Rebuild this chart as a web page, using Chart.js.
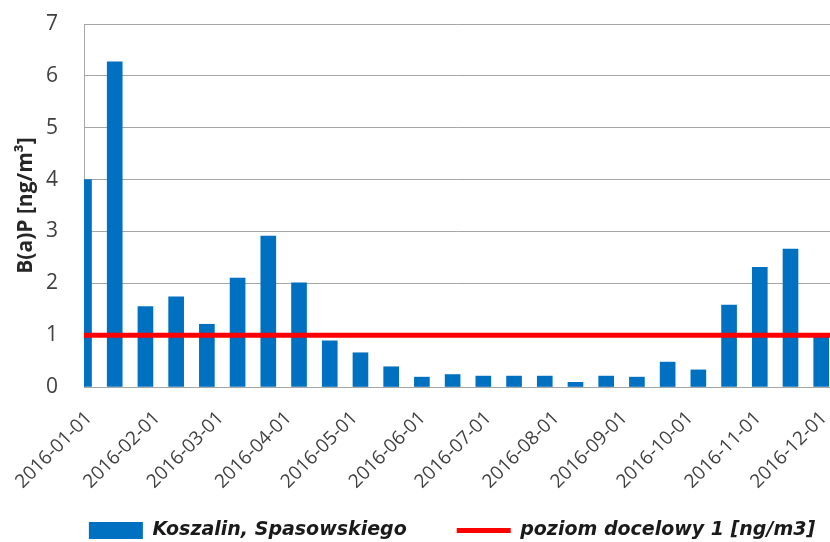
<!DOCTYPE html>
<html>
<head>
<meta charset="utf-8">
<script src="https://cdn.jsdelivr.net/npm/chart.js@4.4.1/dist/chart.umd.min.js"></script>
<style>
  html, body { margin: 0; padding: 0; background: #fff; }
  #wrap { width: 830px; height: 542px; }
</style>
</head>
<body>
<div id="wrap"><canvas id="bapChart"></canvas></div>
<script>
// sampling dates (every 14 days) and measured B(a)P values
var sampleDates = ['2016-01-01', '2016-01-15', '2016-01-29', '2016-02-12', '2016-02-26',
                   '2016-03-11', '2016-03-25', '2016-04-08', '2016-04-22', '2016-05-06',
                   '2016-05-20', '2016-06-03', '2016-06-17', '2016-07-01', '2016-07-15',
                   '2016-07-29', '2016-08-12', '2016-08-26', '2016-09-09', '2016-09-23',
                   '2016-10-07', '2016-10-21', '2016-11-04', '2016-11-18', '2016-12-02'];
var bapValues = [4.0, 6.27, 1.55, 1.74, 1.21, 2.10, 2.91, 2.01, 0.89, 0.66,
                 0.39, 0.19, 0.24, 0.21, 0.21, 0.21, 0.09, 0.21, 0.19, 0.48,
                 0.33, 1.58, 2.31, 2.66, 0.98];

// target value line
var limitDates = ['2016-01-01', '2016-12-06'];
var limitValues = [1, 1];

// x axis labels (month starts)
var tickDates = ['2016-01-01', '2016-02-01', '2016-03-01', '2016-04-01', '2016-05-01', '2016-06-01',
                 '2016-07-01', '2016-08-01', '2016-09-01', '2016-10-01', '2016-11-01', '2016-12-01'];
var yTicks = [0, 1, 2, 3, 4, 5, 6, 7];

var seriesName = 'Koszalin, Spasowskiego';
var limitName = 'poziom docelowy 1 [ng/m3]';

var DAY = 86400000;
var start = Date.UTC(2016, 0, 1);
function dayOf(s) {
    var p = s.split('-');
    return Math.round((Date.UTC(+p[0], +p[1] - 1, +p[2]) - start) / DAY);
}
function labelOf(d) {
    return new Date(start + d * DAY).toISOString().slice(0, 10);
}

var barPoints = sampleDates.map(function (d, i) { return { x: dayOf(d), y: bapValues[i] }; });
var limitPoints = limitDates.map(function (d, i) { return { x: dayOf(d), y: limitValues[i] }; });

var tickColor = '#404040';

// centre the legend under the plot area, and let the slanted
// date labels run past the axis box so they are not clipped
var layoutFix = {
    id: 'layoutFix',
    afterLayout: function (chart) {
        var lg = chart.legend;
        var dx = (chart.chartArea.left + chart.chartArea.right) / 2 - chart.width / 2 - 5;
        lg.left += dx;
        lg.right += dx;
        chart.scales.x.bottom = chart.height;
    }
};

new Chart(document.getElementById('bapChart'), {
    type: 'bar',
    data: {
        datasets: [{
            label: seriesName,
            data: barPoints,
            backgroundColor: '#0070C0',
            borderWidth: 0,
            barThickness: 15,
            pointStyle: 'rect',
            clip: 0,
            order: 2
        }, {
            type: 'line',
            label: limitName,
            data: limitPoints,
            borderColor: '#FF0000',
            backgroundColor: '#FF0000',
            borderWidth: 5,
            pointRadius: 0,
            pointStyle: 'line',
            clip: 0,
            order: 1
        }]
    },
    plugins: [layoutFix],
    options: {
        responsive: true,
        maintainAspectRatio: false,
        animation: false,
        layout: { padding: { top: 24, left: 0, right: 0, bottom: -8 } },
        scales: {
            x: {
                type: 'linear',
                offset: false,
                min: dayOf(limitDates[0]),
                max: dayOf(limitDates[1]),
                grid: { display: false, offset: false, drawTicks: false },
                border: { display: true, color: '#A6A6A6', width: 1 },
                afterBuildTicks: function (scale) {
                    scale.ticks = tickDates.map(function (d) { return { value: dayOf(d) }; });
                },
                afterFit: function (scale) {
                    scale.height = 84;
                    scale.paddingLeft = 0;
                    scale.paddingRight = 0;
                },
                ticks: {
                    autoSkip: false,
                    maxRotation: 45,
                    minRotation: 45,
                    padding: 20,
                    labelOffset: 5,
                    color: tickColor,
                    font: { family: 'Open Sans', size: 19 },
                    callback: function (v) { return labelOf(v); }
                }
            },
            y: {
                min: 0,
                max: 7,
                afterBuildTicks: function (scale) {
                    scale.ticks = yTicks.map(function (v) { return { value: v }; });
                },
                afterFit: function (scale) {
                    scale.width = 84;
                    scale.paddingTop = 0;
                    scale.paddingBottom = 0;
                },
                grid: { color: '#A6A6A6', lineWidth: 1, drawTicks: false },
                border: { display: true, color: '#A6A6A6', width: 1 },
                ticks: {
                    padding: 26,
                    color: tickColor,
                    font: { family: 'Open Sans', size: 21 }
                },
                title: {
                    display: true,
                    text: 'B(a)P [ng/m³]',
                    color: '#262626',
                    padding: { top: 13, bottom: 0 },
                    font: { family: 'Open Sans', size: 21, weight: 'bold' }
                }
            }
        },
        plugins: {
            tooltip: { enabled: false },
            legend: {
                position: 'bottom',
                labels: {
                    usePointStyle: true,
                    pointStyleWidth: 54,
                    boxHeight: 17,
                    padding: 50,
                    color: '#1a1a1a',
                    font: { family: 'DejaVu Sans', size: 19, weight: 'bold', style: 'italic' },
                    sort: function (a, b) { return a.datasetIndex - b.datasetIndex; }
                }
            }
        }
    }
});
</script>
</body>
</html>
